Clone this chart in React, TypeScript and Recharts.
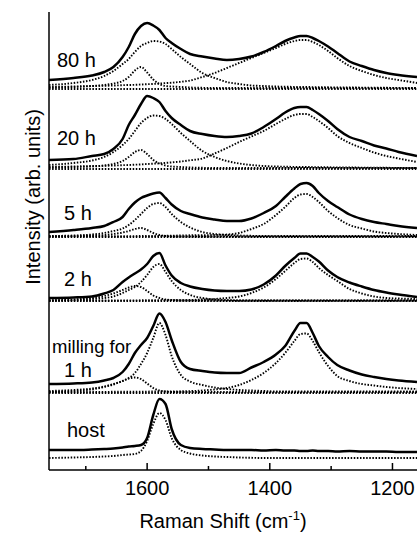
import { LineChart, Line, XAxis, YAxis } from 'recharts';

// Raman shift grid (cm-1)
const SHIFT = [1760, 1720, 1690, 1670, 1655, 1640, 1630, 1620, 1610, 1600, 1590, 1580, 1570, 1560, 1545, 1530, 1510, 1490, 1470, 1450, 1430, 1410, 1390, 1375, 1360, 1350, 1340, 1330, 1320, 1305, 1290, 1270, 1250, 1230, 1210, 1190, 1160];

// vertical offsets of the stacked spectra (arb. units)
const OFFSET_80H = 381;
const OFFSET_20H = 301;
const OFFSET_5H = 233;
const OFFSET_2H = 169;
const OFFSET_1H = 77;
const OFFSET_HOST = 11;

// 80 h
const SOLID_80H = [9, 11, 13.5, 17, 22, 32, 42, 55, 63, 66, 63.5, 59, 51, 46, 40, 35, 32.5, 30.5, 29, 30, 32.5, 37, 43, 48, 51.5, 53, 53, 51, 48, 42.5, 36, 27.5, 23, 19, 16, 14, 12];
const G1_80H = [4, 6, 9, 13, 18, 25, 30, 37, 43, 46, 48, 47.5, 45, 40, 32, 25, 16, 11, 7, 5, 3.5, 3, 2.5, 2.3, 2.1, 2, 2, 1.9, 1.8, 1.7, 1.6, 1.5, 1.4, 1.3, 1.2, 1.1, 1];
const G2_80H = [1.5, 2, 3, 4, 5.5, 8, 12, 18.5, 22, 16.5, 9.5, 5, 3, 2.5, 2, 1.5, 1.2, 1, 1, 1, 1, 1, 1, 1, 1, 1, 1, 1, 1, 1, 1, 1, 1, 1, 1, 1, 1];
const D_80H = [2, 2.5, 3, 3.2, 3.5, 3.8, 4, 4.2, 4.5, 4.8, 5.1, 5.5, 5.9, 6.3, 7.2, 8.5, 12, 16, 21, 26, 31, 36, 41, 45, 48, 49, 49, 47, 44, 38, 31, 23, 18, 14, 11, 9, 6];

// 20 h
const SOLID_20H = [9, 10, 13, 15, 20, 30, 44, 54, 65, 73, 71, 67, 58, 51, 44, 38, 35, 33, 32, 33, 35.5, 42, 50, 56.5, 61, 62, 62, 59, 55, 48, 40, 32, 28, 23.5, 20.5, 17, 13];
const G1_20H = [4, 6, 8.5, 12, 17, 24, 30, 38, 46, 51, 53.5, 53, 50, 45, 36, 28, 18, 12, 8, 5.5, 4, 3, 2.5, 2.3, 2.1, 2, 2, 1.9, 1.8, 1.7, 1.6, 1.5, 1.4, 1.3, 1.2, 1.1, 1];
const G2_20H = [1.5, 2, 2.5, 3.5, 5, 8, 12, 17, 19, 15, 9, 5.5, 3.5, 2.5, 2, 1.5, 1.2, 1, 1, 1, 1, 1, 1, 1, 1, 1, 1, 1, 1, 1, 1, 1, 1, 1, 1, 1, 1];
const D_20H = [2, 2.5, 3, 3.2, 3.5, 3.8, 4, 4.3, 4.6, 5, 5.3, 5.7, 6.1, 6.6, 7.5, 8.7, 10.5, 15.5, 21, 27, 32.5, 38, 45, 50, 54, 55, 55, 52, 48, 41, 33, 26, 21, 16.5, 13, 10.5, 7];

// 5 h
const SOLID_5H = [5, 7, 9, 11, 15, 20, 28, 34.5, 39, 41.5, 43.5, 44.5, 39, 32.5, 26, 23, 19.5, 17.5, 16, 16, 18.5, 24, 31, 40, 48.5, 53, 54, 51, 44, 36, 30, 22.5, 18, 15, 13, 11, 9];
const G1_5H = [1, 1.5, 2.5, 4, 6, 8.5, 12, 17, 23, 29, 33, 34, 30, 23, 15, 9.5, 5, 3, 2, 1.5, 1.2, 1, 1, 1, 1, 1, 1, 1, 1, 1, 1, 1, 1, 1, 1, 1, 1];
const G2_5H = [0.5, 1, 1.5, 2, 3, 4.5, 6, 8, 9, 7, 4, 2, 1, 0.5, 0.5, 0.5, 0.5, 0.5, 0.5, 0.5, 0.5, 0.5, 0.5, 0.5, 0.5, 0.5, 0.5, 0.5, 0.5, 0.5, 0.5, 0.5, 0.5, 0.5, 0.5, 0.5, 0.5];
const D_5H = [0.5, 0.6, 0.7, 0.7, 0.8, 0.8, 0.9, 0.9, 1, 1, 1, 1.1, 1.2, 1.3, 1.5, 1.7, 1.8, 2, 2.5, 4, 8, 13, 22, 30, 39, 42.5, 43, 40, 35, 26, 19, 12, 8.5, 5.5, 4, 3, 2];

// 2 h
const SOLID_2H = [3, 3.5, 4.5, 7.5, 11, 19, 23.5, 27.5, 31.5, 37, 45, 48, 35.5, 25.5, 18, 14.5, 12, 10.5, 10, 10, 11.5, 16.5, 25.5, 35, 43, 47.5, 47.5, 44, 39.5, 30.5, 24, 18.5, 14.5, 11, 8.5, 6.5, 4];
const G1_2H = [0.5, 1, 2, 3, 4.5, 8, 11, 14, 19, 26, 34, 37, 29, 20, 11, 6, 3, 1.5, 1, 0.5, 0.5, 0.5, 0.5, 0.5, 0.5, 0.5, 0.5, 0.5, 0.5, 0.5, 0.5, 0.5, 0.5, 0.5, 0.5, 0.5, 0.5];
const G2_2H = [0.5, 1.5, 3, 5, 7.5, 11, 13.5, 15, 14, 10, 5.5, 3, 1.5, 1, 0.5, 0.5, 0.5, 0.5, 0.5, 0.5, 0.5, 0.5, 0.5, 0.5, 0.5, 0.5, 0.5, 0.5, 0.5, 0.5, 0.5, 0.5, 0.5, 0.5, 0.5, 0.5, 0.5];
const D_2H = [0.5, 0.5, 0.5, 0.5, 0.5, 0.6, 0.6, 0.6, 0.7, 0.7, 0.7, 0.8, 0.8, 0.9, 1, 1, 1.5, 2, 3, 4.5, 8, 13.5, 22, 30, 38, 42, 42.5, 39, 33, 26, 20, 12, 7.5, 4.5, 3, 2.5, 2];

// 1 h
const SOLID_1H = [9, 9.5, 10.5, 12.5, 15, 21, 29, 40, 48, 55, 67, 79.5, 71, 53, 31, 24, 22, 20.5, 20, 20, 25.5, 31, 38.5, 47, 62, 70, 70, 60, 47, 36, 28, 22.5, 18.5, 16, 14, 12.5, 11];
const G1_1H = [2, 3, 4.5, 6.5, 9, 12, 15, 20, 29, 40, 55, 70, 58, 37, 18, 11.5, 8, 5.5, 4, 3, 2.5, 2, 1.5, 1.5, 1.5, 1.5, 1.5, 1.5, 1.5, 1.5, 1.5, 1.5, 1.5, 1.5, 1.5, 1.5, 1.5];
const G2_1H = [1, 2, 3.5, 6, 8.5, 12, 14.5, 15.5, 14, 9.5, 5, 2.5, 1.5, 1, 1, 1, 1, 1, 1, 1, 1, 1, 1, 1, 1, 1, 1, 1, 1, 1, 1, 1, 1, 1, 1, 1, 1];
const D_1H = [1, 1, 1.1, 1.1, 1.2, 1.2, 1.3, 1.3, 1.4, 1.4, 1.5, 1.5, 1.6, 1.6, 1.7, 1.9, 2.5, 3.5, 5, 8, 13, 20, 30, 40, 52, 59, 59.5, 52, 41, 27, 17, 12, 9, 7.5, 6, 5, 4];

// host
const SOLID_HOST = [9, 9, 9.5, 10, 10.5, 11.5, 12.5, 13, 14, 21, 44, 60, 55, 30, 14, 11, 10, 9.5, 9, 9, 9, 8.5, 9, 8.5, 8.5, 8, 8, 8.5, 8, 8, 7.5, 8, 7.5, 7.5, 7.5, 7, 7];
const G_HOST = [1, 1.5, 2, 2.5, 3, 4, 4.5, 5, 8, 18, 35, 46, 39, 21, 9, 5.5, 3.5, 2.5, 2, 1.5, 1.2, 1, 1, 1, 1, 1, 1, 1, 1, 1, 1, 1, 1, 1, 1, 1, 1];

const MAJOR_TICKS = [1600, 1400, 1200];
const ALL_TICKS = [1700, 1600, 1500, 1400, 1300, 1200];

const PANELS = [
  { key: 'h80', offset: OFFSET_80H, solid: SOLID_80H, fits: [G1_80H, G2_80H, D_80H], base: true },
  { key: 'h20', offset: OFFSET_20H, solid: SOLID_20H, fits: [G1_20H, G2_20H, D_20H], base: true },
  { key: 'h5', offset: OFFSET_5H, solid: SOLID_5H, fits: [G1_5H, G2_5H, D_5H], base: true },
  { key: 'h2', offset: OFFSET_2H, solid: SOLID_2H, fits: [G1_2H, G2_2H, D_2H], base: true },
  { key: 'h1', offset: OFFSET_1H, solid: SOLID_1H, fits: [G1_1H, G2_1H, D_1H], base: true },
  { key: 'host', offset: OFFSET_HOST, solid: SOLID_HOST, fits: [G_HOST], base: false },
];

const rows = SHIFT.map((x, i) => {
  const r: Record<string, number> = { x };
  PANELS.forEach((p) => {
    r[`${p.key}_s`] = p.offset + p.solid[i];
    p.fits.forEach((f, j) => {
      r[`${p.key}_f${j}`] = p.offset + f[i];
    });
    if (p.base) r[`${p.key}_b`] = p.offset;
  });
  return r;
});

const FONT = '"Liberation Sans", Arial, Helvetica, sans-serif';

const LABELS = [
  { text: '80 h', x: 49, y: 59, size: 20 },
  { text: '20 h', x: 49, y: 137, size: 20 },
  { text: '5 h', x: 56, y: 212, size: 20 },
  { text: '2 h', x: 56, y: 278, size: 20 },
  { text: 'milling for', x: 44, y: 345, size: 18.5 },
  { text: '1 h', x: 56, y: 369, size: 20 },
  { text: 'host', x: 59, y: 429, size: 20 },
];

const BottomTick = (props: any) => {
  const { x, y, payload } = props;
  const major = MAJOR_TICKS.includes(payload.value);
  return (
    <g>
      <line x1={x} x2={x} y1={y} y2={y - (major ? 7 : 4)} stroke="#000" strokeWidth={1.5} />
      {major && (
        <text x={x} y={y + 25} textAnchor="middle" fontSize={20} fontFamily={FONT} fill="#000">
          {payload.value}
        </text>
      )}
    </g>
  );
};

const TopTick = (props: any) => {
  const { x, y, payload } = props;
  const major = MAJOR_TICKS.includes(payload.value);
  return <line x1={x} x2={x} y1={y} y2={y + (major ? 7 : 4)} stroke="#000" strokeWidth={1.5} />;
};

export default function App() {
  return (
    <div style={{ padding: '8px 0 0 8px', width: 409, height: 527 }}>
      <style>{'body { margin: 0; }'}</style>
      <div style={{ position: 'relative', width: 409, height: 527 }}>
        <LineChart width={409} height={527} data={rows} margin={{ top: 4, right: 0, bottom: 0, left: 0 }}>
          <XAxis
            dataKey="x"
            type="number"
            domain={[1160, 1760]}
            reversed
            allowDataOverflow
            ticks={ALL_TICKS}
            interval={0}
            height={65}
            tickSize={0}
            tickMargin={0}
            tick={<BottomTick />}
            tickLine={false}
            axisLine={{ stroke: '#000', strokeWidth: 1.5 }}
          />
          <XAxis
            xAxisId="top"
            orientation="top"
            dataKey="x"
            type="number"
            domain={[1160, 1760]}
            reversed
            allowDataOverflow
            ticks={ALL_TICKS}
            interval={0}
            height={0}
            tickSize={0}
            tickMargin={0}
            tick={<TopTick />}
            tickLine={false}
            axisLine={{ stroke: '#000', strokeWidth: 1.5 }}
          />
          <YAxis
            type="number"
            domain={[0, 458]}
            allowDataOverflow
            width={41}
            tick={false}
            tickLine={false}
            axisLine={{ stroke: '#000', strokeWidth: 1.5 }}
          />
          {PANELS.map((p) => [
            ...p.fits.map((_, j) => (
              <Line
                key={`${p.key}_f${j}`}
                dataKey={`${p.key}_f${j}`}
                type="monotone"
                stroke="#000"
                strokeWidth={1.9}
                strokeDasharray="1.5 1.6"
                dot={false}
                isAnimationActive={false}
              />
            )),
            p.base ? (
              <Line
                key={`${p.key}_b`}
                dataKey={`${p.key}_b`}
                type="linear"
                stroke="#000"
                strokeWidth={1.9}
                strokeDasharray="1.5 1.6"
                dot={false}
                isAnimationActive={false}
              />
            ) : null,
            <Line
              key={`${p.key}_s`}
              dataKey={`${p.key}_s`}
              type="monotone"
              stroke="#000"
              strokeWidth={2.5}
              dot={false}
              isAnimationActive={false}
            />,
          ])}
        </LineChart>
        <svg width={409} height={527} style={{ position: 'absolute', left: 0, top: 0, pointerEvents: 'none' }}>
          {LABELS.map((l) => (
            <text key={l.text} x={l.x} y={l.y} fontSize={l.size} fontFamily={FONT} fill="#000">
              {l.text}
            </text>
          ))}
          <text
            x={32}
            y={189}
            transform="rotate(-90 32 189)"
            textAnchor="middle"
            fontSize={20}
            fontFamily={FONT}
            fill="#000"
          >
            Intensity (arb. units)
          </text>
          <text x={215} y={520} textAnchor="middle" fontSize={20} fontFamily={FONT} fill="#000">
            Raman Shift (cm
            <tspan fontSize={13} dy={-8}>-1</tspan>
            <tspan dy={8}>)</tspan>
          </text>
        </svg>
      </div>
    </div>
  );
}
